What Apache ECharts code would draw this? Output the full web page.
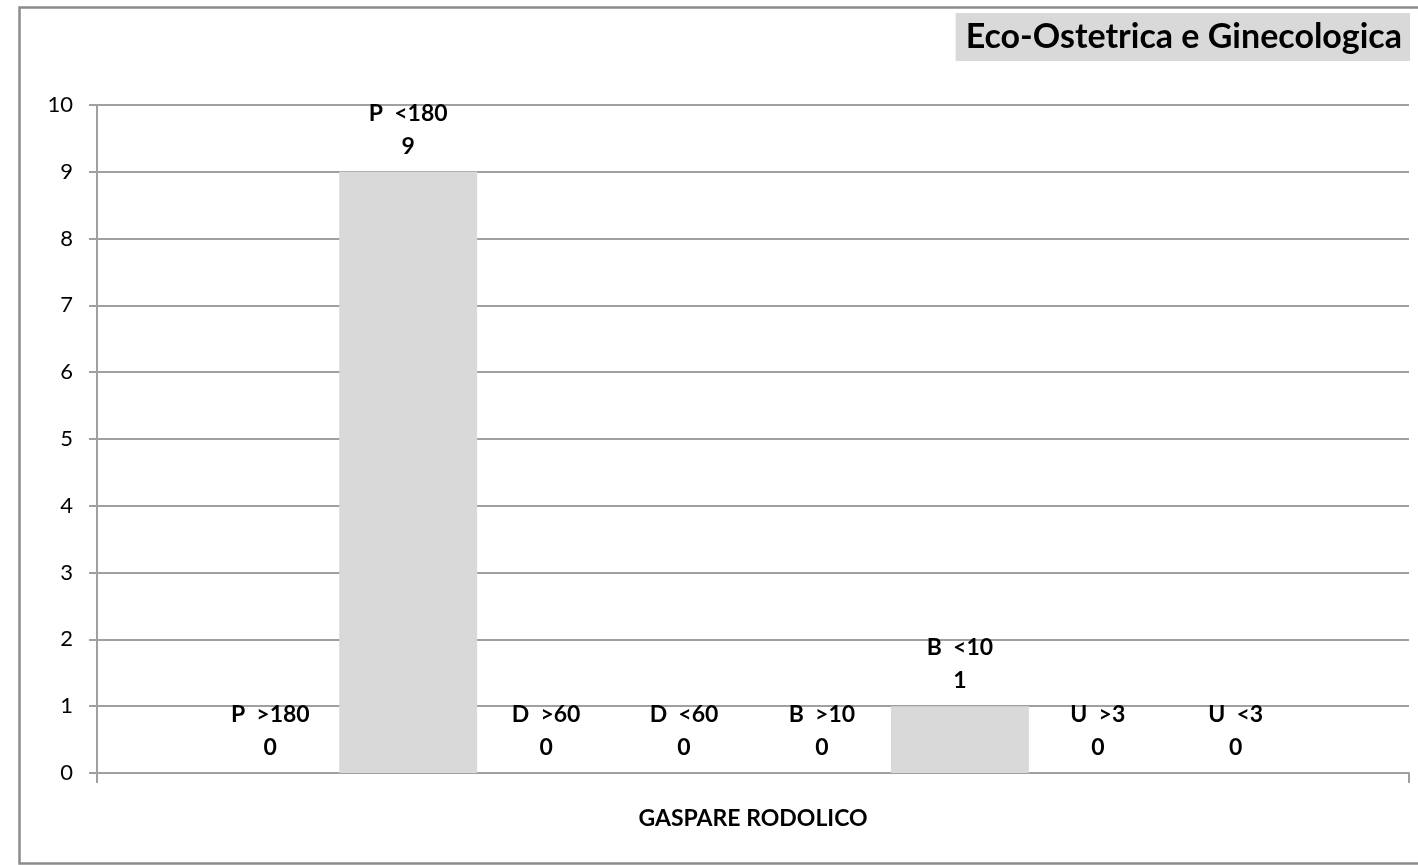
<!DOCTYPE html>
<html>
<head>
<meta charset="utf-8">
<script src="https://cdn.jsdelivr.net/npm/echarts@6/dist/echarts.min.js"></script>
<style>
html,body{margin:0;padding:0;background:#fff;}
#main{width:1418px;height:865px;}
</style>
</head>
<body>
<div id="main"></div>
<script>
const categories = ['GASPARE RODOLICO'];
const seriesNames = ['P  >180', 'P  <180', 'D  >60', 'D  <60', 'B  >10', 'B  <10', 'U  >3', 'U  <3'];
const seriesValues = [0, 9, 0, 0, 0, 1, 0, 0];
const yTicks = { min: 0, max: 10, interval: 1 };
const titleText = 'Eco-Ostetrica e Ginecologica';

const FONT = 'Lato, "Open Sans", sans-serif';
const chart = echarts.init(document.getElementById('main'));

const series = seriesNames.map((name, i) => ({
  name: name,
  type: 'bar',
  data: [seriesValues[i]],
  barGap: '0%',
  barCategoryGap: '15.9%',
  itemStyle: { color: '#d9d9d9' },
  label: {
    show: true,
    position: 'top',
    distance: 9,
    formatter: '{a}\n{c}',
    fontFamily: FONT,
    fontWeight: 'bold',
    fontSize: 23,
    lineHeight: 33,
    color: '#000'
  }
}));

chart.setOption({
  animation: false,
  backgroundColor: '#fff',
  graphic: [{
    type: 'rect',
    left: 17, top: 5,
    shape: { width: 1420, height: 856 },
    style: { fill: 'none', stroke: '#8c8c8c', lineWidth: 2.5 },
    z: -10
  }],
  title: {
    text: titleText,
    right: 8,
    top: 13,
    backgroundColor: '#d9d9d9',
    padding: [7, 8, 7, 10],
    textStyle: { fontFamily: FONT, fontWeight: 'bold', fontSize: 34, color: '#000' }
  },
  grid: { left: 97, right: 9, top: 105, bottom: 92, containLabel: false },
  xAxis: {
    type: 'category',
    data: categories,
    axisLine: { show: true, lineStyle: { color: '#a0a0a0', width: 2 } },
    axisTick: { show: true, length: 10, inside: false, lineStyle: { color: '#a0a0a0', width: 2 } },
    axisLabel: { margin: 34, fontFamily: FONT, fontWeight: 'bold', fontSize: 23, color: '#000' }
  },
  yAxis: {
    type: 'value',
    min: yTicks.min, max: yTicks.max, interval: yTicks.interval,
    axisLine: { show: true, lineStyle: { color: '#a0a0a0', width: 2 } },
    axisTick: { show: true, length: 8, lineStyle: { color: '#a0a0a0', width: 2 } },
    axisLabel: { margin: 24, fontFamily: FONT, fontSize: 22, color: '#000' },
    splitLine: { show: true, lineStyle: { color: '#a0a0a0', width: 2 } }
  },
  series: series
});
</script>
</body>
</html>
